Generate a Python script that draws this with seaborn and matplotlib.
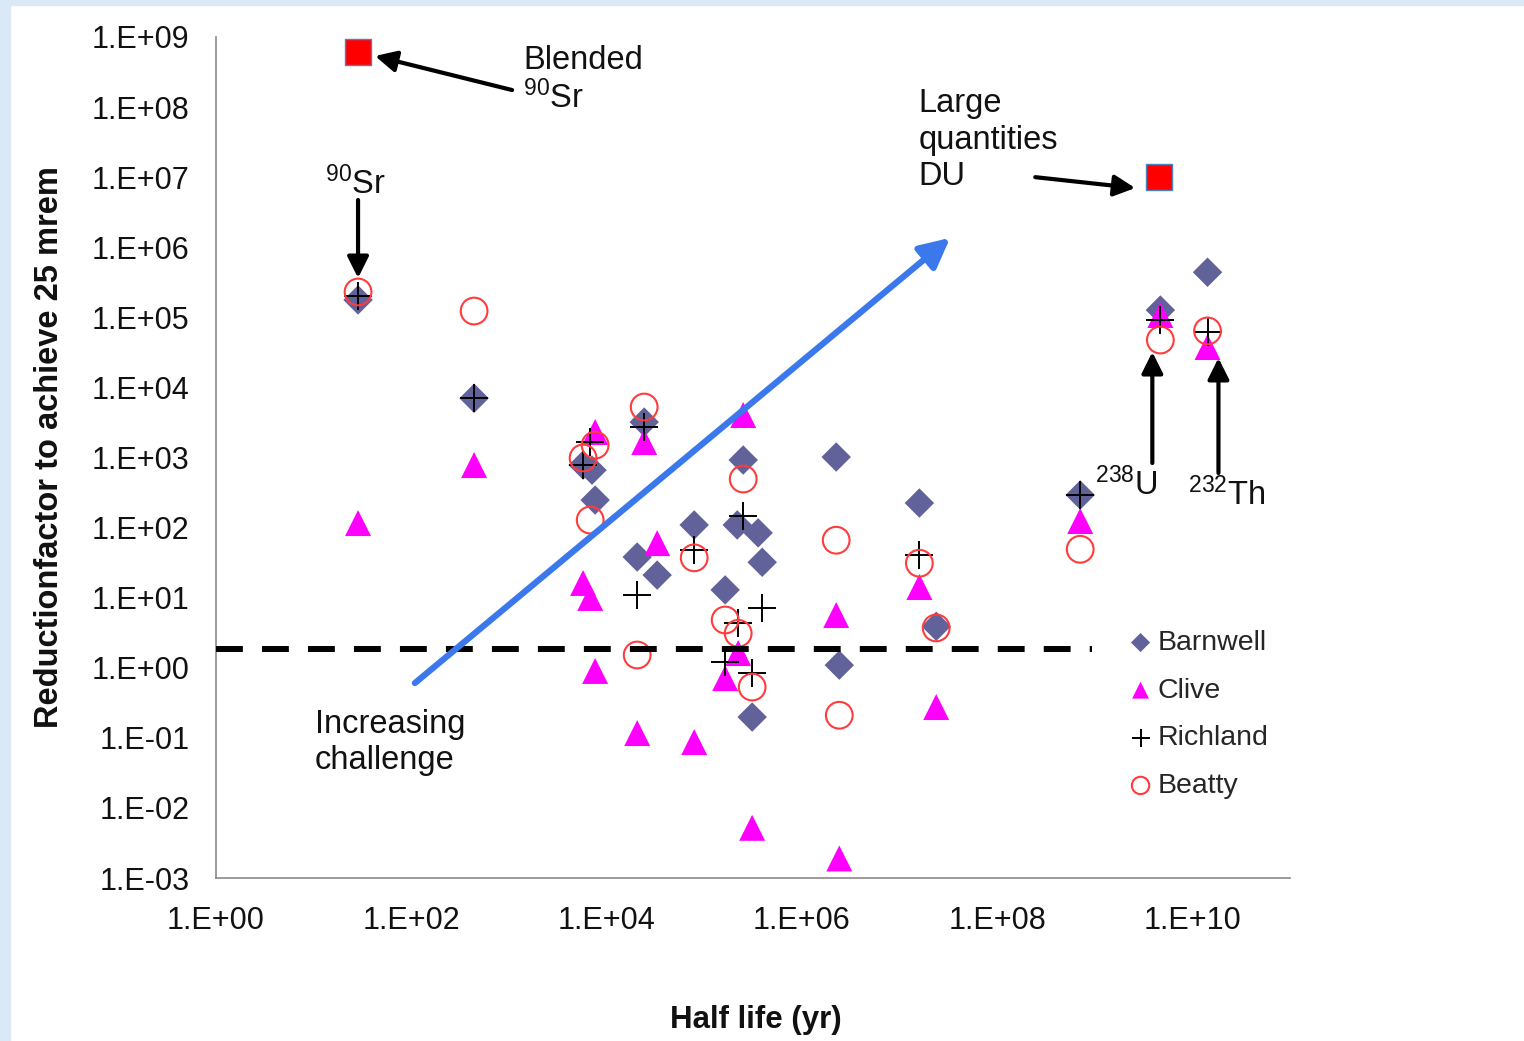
import numpy as np
import pandas as pd
import matplotlib
matplotlib.use("Agg")
import matplotlib.pyplot as plt
from matplotlib.markers import MarkerStyle
from matplotlib.ticker import FixedLocator, NullLocator
from matplotlib.patches import Rectangle
import seaborn as sns

# ---------------- data ----------------
sites = ["Barnwell", "Clive", "Richland", "Beatty"]

barnwell_half_life = [28.5, 440, 5750, 7100, 7640, 24300, 20600, 33000, 79000,
                      251000, 218000, 357000, 393000, 164000, 310000,
                      2.25e6, 2.42e6, 1.6e7, 2.38e7, 7.1e8, 4.7e9, 1.43e10]
barnwell_reduction = [1.77e5, 7.0e3, 780, 660, 247, 3200, 38, 21, 109,
                      920, 109, 84, 32, 12.9, 0.198,
                      1016, 1.09, 224, 3.9, 292, 1.27e5, 4.4e5]

clive_half_life = [28.5, 440, 7640, 5750, 6800, 7640, 24300, 33000, 20600, 79000,
                   251000, 223000, 164000, 310000, 2.25e6, 2.42e6, 1.6e7, 2.38e7,
                   7.1e8, 4.7e9, 1.43e10]
clive_reduction = [116, 780, 2310, 16.2, 9.9, 0.90, 1660, 60, 0.117, 0.087,
                   4040, 1.62, 0.71, 0.0052, 5.65, 0.0019, 14.2, 0.275,
                   124, 1.08e5, 3.77e4]

richland_half_life = [28.5, 440, 5750, 6800, 24300, 20600, 79000, 251000,
                      393000, 223000, 164000, 310000, 1.6e7, 7.1e8, 4.7e9, 1.43e10]
richland_reduction = [2.0e5, 7.0e3, 780, 1660, 2720, 10.9, 48, 146,
                      7.1, 4.35, 1.2, 0.84, 40.5, 292, 9.2e4, 6.2e4]

beatty_half_life = [28.5, 440, 5750, 7640, 6800, 24300, 20600, 79000, 251000,
                    164000, 223000, 310000, 2.25e6, 2.42e6, 1.6e7, 2.38e7,
                    7.1e8, 4.7e9, 1.43e10]
beatty_reduction = [2.3e5, 1.23e5, 985, 1500, 128, 5250, 1.52, 37, 493,
                    4.8, 3.1, 0.53, 66, 0.21, 31, 3.7, 49, 4.74e4, 6.4e4]

special_half_life = [28.5, 4.5e9]        # blended 90Sr, large quantities DU
special_reduction = [6.1e8, 1.0e7]

threshold_reduction = 1.85
threshold_half_life = [1.0, 9.4e8]

x_ticks = [1e0, 1e2, 1e4, 1e6, 1e8, 1e10]
x_tick_labels = ["1.E+00", "1.E+02", "1.E+04", "1.E+06", "1.E+08", "1.E+10"]
y_ticks = [1e-3, 1e-2, 1e-1, 1e0, 1e1, 1e2, 1e3, 1e4, 1e5, 1e6, 1e7, 1e8, 1e9]
y_tick_labels = ["1.E-03", "1.E-02", "1.E-01", "1.E+00", "1.E+01", "1.E+02",
                 "1.E+03", "1.E+04", "1.E+05", "1.E+06", "1.E+07", "1.E+08",
                 "1.E+09"]

df = pd.concat([
    pd.DataFrame({"site": "Barnwell", "half_life": barnwell_half_life, "reduction": barnwell_reduction}),
    pd.DataFrame({"site": "Clive", "half_life": clive_half_life, "reduction": clive_reduction}),
    pd.DataFrame({"site": "Richland", "half_life": richland_half_life, "reduction": richland_reduction}),
    pd.DataFrame({"site": "Beatty", "half_life": beatty_half_life, "reduction": beatty_reduction}),
], ignore_index=True)

# ---------------- style ----------------
sns.set_style("white")
plt.rcParams["font.family"] = ["Liberation Sans", "DejaVu Sans"]
plt.rcParams["mathtext.fontset"] = "custom"
plt.rcParams["mathtext.rm"] = "Liberation Sans"
plt.rcParams["mathtext.it"] = "Liberation Sans:italic"
plt.rcParams["mathtext.bf"] = "Liberation Sans:bold"

W, H = 1524, 1041
fig = plt.figure(figsize=(W / 100, H / 100), dpi=100)
fig.patch.set_facecolor("white")
# light slide-background edges
fig.patches.append(Rectangle((0, 0), 10 / W, 1, transform=fig.transFigure,
                             color="#dbe8f6", zorder=0))
fig.patches.append(Rectangle((0, 1 - 5 / H), 1, 5 / H, transform=fig.transFigure,
                             color="#dbe8f6", zorder=0))

ax = fig.add_axes([216 / W, 1 - 878 / H, (1290 - 216) / W, (878 - 37) / H])
ax.set_facecolor("none")

styles = {
    "Barnwell": dict(marker="D", color="#62629a", s=225, linewidth=0, edgecolor="none"),
    "Clive": dict(marker="^", color="#ff00ff", s=350, linewidth=0, edgecolor="none"),
    "Richland": dict(marker="+", color="black", s=390, linewidth=1.4),
    "Beatty": dict(marker=MarkerStyle("o", fillstyle="none"), color="#ff3c3c",
                   s=370, linewidth=1.5),
}

for site in sites:
    sub = df[df["site"] == site]
    sns.scatterplot(data=sub, x="half_life", y="reduction", ax=ax, label=site,
                    legend=False, zorder=3, **styles[site])

# red squares
sns.scatterplot(x=special_half_life, y=special_reduction, ax=ax, marker="s",
                color="#ff0000", s=340, edgecolor="#4f81bd", linewidth=1.0,
                legend=False, zorder=4)

# threshold dashed line
ax.plot(threshold_half_life, [threshold_reduction] * 2, color="black", lw=4.3,
        dashes=(4.5, 3.2), zorder=5, solid_capstyle="butt", dash_capstyle="butt")

ax.set_xscale("log")
ax.set_yscale("log")
ax.set_xlim(1, 1e11)
ax.set_ylim(1e-3, 1e9)
ax.xaxis.set_major_locator(FixedLocator(x_ticks))
ax.yaxis.set_major_locator(FixedLocator(y_ticks))
ax.xaxis.set_minor_locator(NullLocator())
ax.yaxis.set_minor_locator(NullLocator())
ax.set_xticklabels(x_tick_labels)
ax.set_yticklabels(y_tick_labels)
ax.set_xlabel("")
ax.set_ylabel("")

for side in ["top", "right"]:
    ax.spines[side].set_visible(False)
for side in ["left", "bottom"]:
    ax.spines[side].set_color("#8a8a8a")
    ax.spines[side].set_linewidth(1.2)
ax.tick_params(axis="both", direction="out", length=7, width=1.2,
               color="#8a8a8a", labelsize=22, labelcolor="#111111")
ax.tick_params(axis="y", pad=12)
ax.tick_params(axis="x", pad=13)
ax.grid(False)

# axis titles
fig.text(50 / W, 1 - 447 / H, "Reductionfactor to achieve 25 mrem", rotation=90,
         ha="center", va="center", fontsize=23.5, fontweight="bold", color="#111111")
fig.text(756 / W, 1 - 1020 / H, "Half life (yr)", ha="center", va="center",
         fontsize=22.5, fontweight="bold", color="#111111")

# legend
handles, labels = ax.get_legend_handles_labels()
ax.legend(handles, labels, loc="upper left",
          bbox_to_anchor=(1132 / W, 1 - 630 / H), bbox_transform=fig.transFigure,
          frameon=False, fontsize=20.5, markerscale=0.65, handlelength=0.6,
          handletextpad=0.3, labelspacing=0.76, borderpad=0, borderaxespad=0)

# trend arrow
ax.annotate("", xy=(3.3e7, 1.36e6), xytext=(109, 0.605),
            arrowprops=dict(arrowstyle="-|>", color="#3a78ec", lw=4.5,
                            mutation_scale=45, shrinkA=0, shrinkB=0), zorder=6)

blk = dict(arrowstyle="-|>", color="black", lw=3, mutation_scale=32,
           shrinkA=0, shrinkB=0)
tfs = 23.5
# Blended 90Sr
ax.text(1400, 7.8e8, "Blended\n" + r"$\mathrm{^{90}}$Sr", ha="left", va="top",
        fontsize=tfs, linespacing=1.2, color="#111111")
ax.annotate("", xy=(42.6, 5.36e8), xytext=(1078, 1.75e8), arrowprops=blk, zorder=6)
# 90Sr
ax.text(26.6, 8.0e6, r"$\mathrm{^{90}}$Sr", ha="center", va="center",
        fontsize=tfs, color="#111111")
ax.annotate("", xy=(28.5, 3.64e5), xytext=(28.5, 4.72e6), arrowprops=blk, zorder=6)
# Large quantities DU
ax.text(1.56e7, 1.85e8, "Large\nquantities\nDU", ha="left", va="top",
        fontsize=tfs, linespacing=1.22, color="#111111")
ax.annotate("", xy=(2.6e9, 7.0e6), xytext=(2.46e8, 1.0e7), arrowprops=blk, zorder=6)
# 238U
ax.text(1.01e9, 410, r"$\mathrm{^{238}}$U", ha="left", va="center",
        fontsize=tfs, color="#111111")
ax.annotate("", xy=(3.89e9, 3.2e4), xytext=(3.89e9, 834), arrowprops=blk, zorder=6)
# 232Th
ax.text(9.1e9, 290, r"$\mathrm{^{232}}$Th", ha="left", va="center",
        fontsize=tfs, color="#111111")
ax.annotate("", xy=(1.85e10, 2.63e4), xytext=(1.85e10, 600), arrowprops=blk, zorder=6)
# Increasing challenge
ax.text(10.3, 0.26, "Increasing\nchallenge", ha="left", va="top",
        fontsize=tfs, linespacing=1.2, color="#111111")

fig.savefig("out.png", dpi=100, facecolor=fig.get_facecolor())
